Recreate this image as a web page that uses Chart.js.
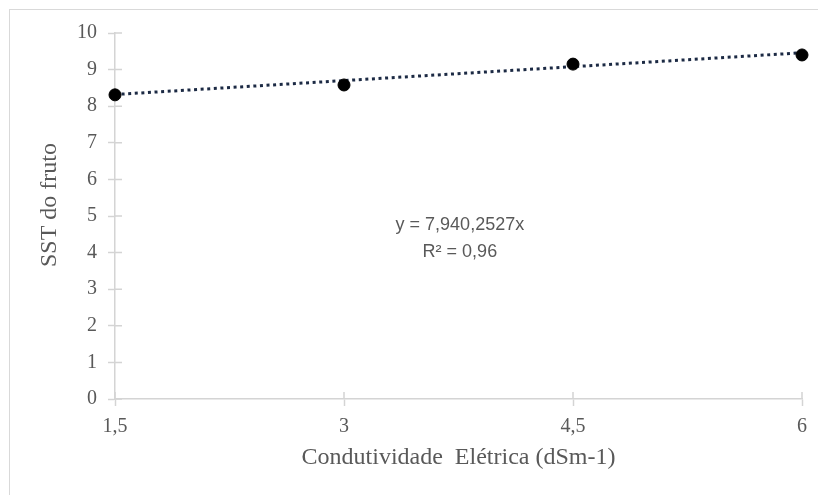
<!DOCTYPE html>
<html>
<head>
<meta charset="utf-8">
<script src="https://cdn.jsdelivr.net/npm/chart.js@4/dist/chart.umd.min.js"></script>
<style>
  html, body { margin: 0; padding: 0; background: #fff; overflow: hidden; }
  #wrap { position: relative; width: 818px; height: 495px; }
  #frame { position: absolute; left: 9px; top: 9px; width: 900px; height: 600px; border: 1px solid #d9d9d9; }
  canvas { position: absolute; left: 0; top: 0; }
</style>
</head>
<body>
<div id="wrap">
  <div id="frame"></div>
  <canvas id="chart" width="818" height="495"></canvas>
</div>
<script>
// dados
var condutividade = [1.5, 3, 4.5, 6];
var sstFruto = [8.31, 8.58, 9.15, 9.40];
var tendX = [1.5, 6];
var tendY = [8.32, 9.46];
var xTicks = [1.5, 3, 4.5, 6];
var equacao = ['y = 7,940,2527x', 'R² = 0,96'];
var tituloY = 'SST do fruto';

var cinza = '#595959';
var eixo = '#d4d4d4';
var serif = '"Liberation Serif", "Times New Roman", serif';

function virgula(v) {
  return String(v).replace('.', ',');
}

// ticks cruzando o eixo, título do eixo y e equação da tendência
var extras = {
  id: 'extras',
  afterDatasetsDraw: function (chart) {
    var ctx = chart.ctx, a = chart.chartArea;
    var sx = chart.scales.x, sy = chart.scales.y;
    ctx.save();
    ctx.strokeStyle = eixo;
    ctx.lineWidth = 1.5;
    ctx.beginPath();
    sy.ticks.forEach(function (t) {
      var y = sy.getPixelForValue(t.value);
      ctx.moveTo(a.left, y);
      ctx.lineTo(a.left + 7, y);
    });
    sx.ticks.forEach(function (t) {
      var x = sx.getPixelForValue(t.value);
      ctx.moveTo(x, a.bottom);
      ctx.lineTo(x, a.bottom - 7);
    });
    ctx.stroke();
    ctx.restore();
  },
  afterDraw: function (chart) {
    var ctx = chart.ctx, a = chart.chartArea;
    var cx = a.left + (a.right - a.left) * 0.502;
    ctx.save();
    ctx.fillStyle = cinza;
    ctx.font = '18px "Liberation Sans", Arial, sans-serif';
    ctx.textAlign = 'center';
    ctx.textBaseline = 'middle';
    ctx.fillText(equacao[0], cx, chart.scales.y.getPixelForValue(4.75));
    ctx.fillText(equacao[1], cx, chart.scales.y.getPixelForValue(4.02));

    ctx.font = '24px ' + serif;
    ctx.translate(50, (a.top + a.bottom) / 2 - 11);
    ctx.rotate(-Math.PI / 2);
    ctx.fillText(tituloY, 0, 0);
    ctx.restore();
  }
};

var ctx = document.getElementById('chart').getContext('2d');
var chart = new Chart(ctx, {
  type: 'scatter',
  data: {
    datasets: [{
      label: 'SST',
      data: condutividade.map(function (x, i) { return { x: x, y: sstFruto[i] }; }),
      backgroundColor: '#000',
      borderColor: '#000',
      pointRadius: 6,
      pointHoverRadius: 6,
      clip: false,
      order: 1
    }, {
      label: 'Linear',
      data: tendX.map(function (x, i) { return { x: x, y: tendY[i] }; }),
      showLine: true,
      borderColor: '#1c2a44',
      borderWidth: 3,
      borderDash: [3, 3.6],
      pointRadius: 0,
      clip: false,
      order: 2
    }]
  },
  plugins: [extras],
  options: {
    responsive: false,
    animation: false,
    layout: { padding: { left: 0, right: 16, top: 33, bottom: 0 } },
    plugins: {
      legend: { display: false },
      tooltip: { enabled: false }
    },
    scales: {
      x: {
        type: 'linear',
        min: 1.5,
        max: 6,
        afterBuildTicks: function (scale) {
          scale.ticks = xTicks.map(function (v) { return { value: v }; });
        },
        afterFit: function (scale) { scale.height = 96; },
        grid: { drawOnChartArea: false, drawTicks: true, tickLength: 7, tickColor: eixo, tickWidth: 1.5 },
        border: { color: eixo, width: 1.5 },
        ticks: {
          padding: 9,
          color: cinza,
          font: { family: serif, size: 20 },
          callback: function (v) { return virgula(v); }
        },
        title: {
          display: true,
          text: 'Condutividade  Elétrica (dSm-1)',
          color: cinza,
          font: { family: serif, size: 24 },
          padding: { top: 0, bottom: 22.6 }
        }
      },
      y: {
        min: 0,
        max: 10,
        afterFit: function (scale) { scale.width = 115; },
        grid: { drawOnChartArea: false, drawTicks: true, tickLength: 7, tickColor: eixo, tickWidth: 1.5 },
        border: { color: eixo, width: 1.5 },
        ticks: {
          stepSize: 1,
          padding: 11,
          color: cinza,
          font: { family: serif, size: 20 }
        }
      }
    }
  }
});
</script>
</body>
</html>
